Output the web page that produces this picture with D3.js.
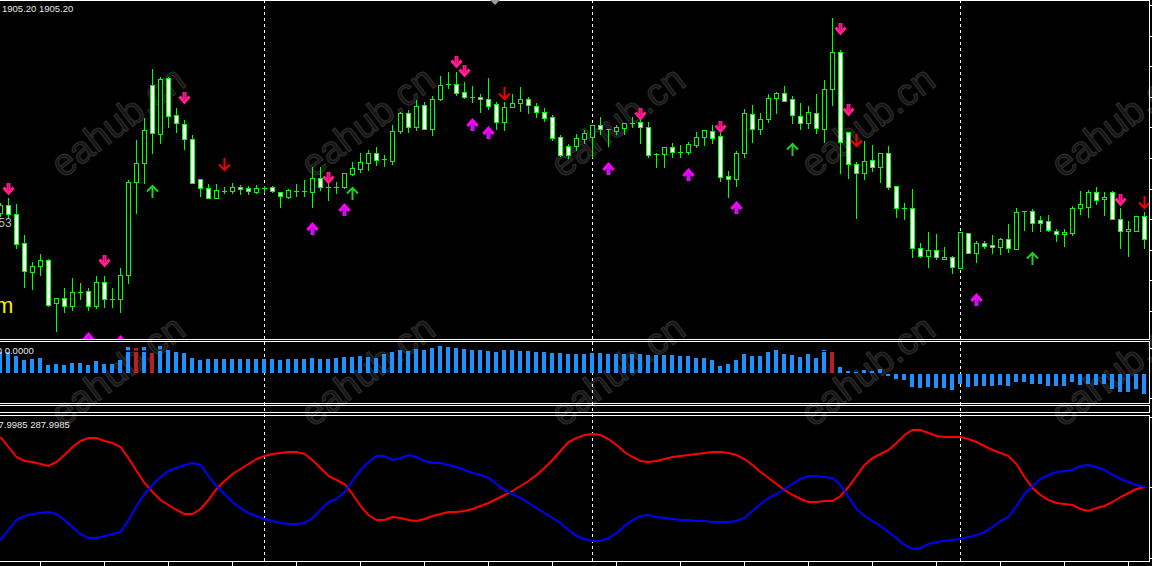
<!DOCTYPE html>
<html><head><meta charset="utf-8">
<script src="https://cdn.jsdelivr.net/npm/d3@7"></script>
<style>html,body{margin:0;padding:0;background:#000;overflow:hidden}</style>
</head><body><svg id="c" width="1152" height="566"></svg>
<script>
// ---------------- DATA ----------------
const barIndex = d3.range(144);
const candleOpen = [
1978.7,1979.5,1978.6,1975.7,1972.8,1973.4,1974.0,1969.7,1970.2,1969.4,
1970.8,1970.9,1969.4,1971.8,1970.1,1970.1,1972.5,1981.8,1983.7,1991.5,
1986.6,1992.2,1988.5,1987.6,1986.1,1982.1,1981.2,1980.2,1980.9,1980.9,
1981.3,1981.2,1980.8,1981.2,1981.3,1980.8,1980.3,1980.9,1980.9,1980.8,
1982.2,1981.3,1981.3,1981.3,1982.6,1983.1,1983.7,1984.7,1984.1,1983.9,
1986.9,1988.7,1987.3,1989.5,1987.1,1990.1,1991.6,1991.6,1990.8,1990.3,
1990.3,1990.1,1989.6,1987.8,1989.3,1989.7,1990.1,1989.4,1988.8,1988.3,
1986.3,1985.4,1985.4,1986.1,1986.3,1987.5,1987.1,1986.9,1987.2,1987.7,
1987.8,1987.3,1984.6,1984.6,1985.3,1984.8,1984.8,1985.5,1986.3,1986.9,
1986.4,1982.4,1982.1,1984.7,1988.6,1987.1,1988.1,1990.2,1990.7,1990.1,
1988.4,1987.7,1988.7,1987.1,1991.1,1994.8,1986.8,1983.6,1982.7,1984.0,
1983.3,1984.7,1981.4,1979.2,1979.2,1975.2,1974.4,1975.0,1974.1,1974.3,
1973.2,1976.7,1974.7,1975.7,1975.5,1975.3,1976.1,1975.1,1978.9,1978.9,
1978.0,1977.9,1976.9,1976.6,1976.7,1979.2,1979.3,1980.8,1980.1,1980.8,
1978.1,1976.9,1976.9,1978.4];
const candleHigh = [
1979.7,1980.2,1979.6,1976.5,1973.8,1974.6,1974.1,1970.2,1971.2,1972.2,
1971.7,1971.2,1972.4,1972.4,1971.2,1973.2,1982.0,1986.0,1988.2,1993.1,
1992.3,1992.3,1989.2,1988.0,1986.5,1982.1,1981.6,1981.6,1981.3,1981.7,
1981.5,1981.4,1981.5,1981.4,1981.4,1980.8,1981.1,1981.6,1982.0,1983.3,
1983.3,1982.3,1981.8,1982.7,1983.8,1984.7,1985.0,1985.3,1984.5,1987.5,
1988.8,1989.0,1990.0,1989.8,1990.4,1992.4,1992.8,1992.8,1991.8,1991.4,
1990.6,1992.2,1989.8,1989.8,1990.6,1991.3,1990.3,1989.7,1989.2,1988.5,
1986.5,1985.6,1986.6,1987.0,1987.5,1988.3,1987.1,1987.5,1987.7,1988.3,
1988.4,1987.8,1984.7,1985.3,1985.7,1985.5,1985.8,1986.8,1987.0,1987.5,
1986.9,1982.9,1984.9,1989.1,1989.5,1988.7,1990.6,1990.8,1991.4,1990.4,
1989.7,1989.4,1990.6,1992.0,1998.2,1995.0,1986.8,1983.8,1985.9,1985.5,
1984.7,1985.4,1981.4,1979.7,1981.1,1975.7,1976.8,1976.6,1975.3,1974.4,
1976.8,1976.7,1975.9,1975.9,1976.5,1976.2,1977.6,1979.2,1978.9,1979.1,
1978.4,1978.5,1977.1,1977.1,1979.4,1980.9,1981.0,1981.3,1980.8,1980.9,
1979.2,1977.9,1978.4,1978.8];
const candleLow = [
1978.4,1978.2,1975.2,1971.3,1971.1,1972.5,1969.4,1966.9,1968.8,1969.0,
1970.1,1969.0,1969.2,1969.3,1969.3,1968.8,1971.7,1978.7,1981.7,1984.7,
1985.7,1987.3,1986.8,1985.1,1981.7,1980.4,1980.2,1980.2,1980.7,1980.7,
1980.6,1980.6,1980.7,1980.8,1980.8,1979.3,1980.2,1980.4,1980.4,1979.3,
1981.0,1980.0,1980.7,1981.2,1982.5,1982.8,1983.0,1983.5,1983.4,1983.6,
1986.7,1986.8,1987.0,1987.1,1986.5,1990.0,1991.2,1990.5,1990.2,1989.8,
1988.8,1989.1,1987.1,1987.0,1989.3,1988.9,1988.7,1988.3,1987.9,1986.0,
1984.4,1984.2,1985.0,1985.7,1984.3,1986.6,1985.4,1986.6,1986.6,1987.3,
1985.7,1984.3,1983.3,1983.3,1984.3,1984.3,1984.6,1985.3,1985.5,1985.7,
1981.9,1980.3,1981.4,1984.3,1985.8,1986.6,1987.8,1988.7,1989.9,1987.7,
1987.1,1987.2,1986.7,1985.8,1989.5,1982.7,1982.2,1978.2,1982.1,1982.9,
1981.8,1981.1,1978.3,1978.1,1974.3,1974.3,1973.3,1974.1,1974.1,1972.7,
1973.2,1974.7,1973.8,1975.2,1974.7,1974.6,1974.8,1975.1,1977.0,1976.9,
1976.9,1976.9,1975.9,1975.4,1976.5,1978.6,1978.3,1979.6,1978.5,1978.1,
1975.2,1974.4,1976.9,1975.2];
const candleClose = [
1979.5,1978.6,1975.6,1972.9,1973.4,1974.0,1969.5,1970.2,1969.4,1970.8,
1970.8,1969.4,1971.8,1970.1,1970.1,1972.5,1981.8,1983.7,1987.0,1986.7,
1992.1,1988.4,1987.7,1986.1,1981.7,1981.2,1980.2,1981.0,1980.9,1981.3,
1981.1,1980.9,1981.2,1981.2,1980.9,1980.4,1981.0,1980.9,1980.9,1982.2,
1981.3,1981.3,1981.3,1982.7,1983.2,1983.8,1984.7,1984.0,1984.1,1986.9,
1988.7,1987.3,1989.4,1987.1,1990.1,1991.5,1991.6,1990.7,1990.3,1990.3,
1990.1,1989.4,1987.8,1989.3,1989.7,1990.1,1989.5,1988.8,1988.2,1986.2,
1984.5,1984.5,1986.2,1986.7,1987.5,1987.1,1987.1,1987.3,1987.7,1987.7,
1987.3,1984.5,1984.6,1985.3,1984.8,1984.8,1985.6,1986.3,1987.0,1986.2,
1982.3,1982.1,1984.7,1988.7,1987.1,1988.1,1990.2,1990.7,1989.9,1988.5,
1987.7,1988.8,1987.2,1991.1,1994.8,1985.8,1983.6,1982.7,1983.9,1983.3,
1984.7,1981.3,1979.2,1979.2,1975.2,1974.4,1975.0,1974.3,1974.3,1973.3,
1976.8,1974.7,1975.7,1975.4,1975.3,1976.1,1975.2,1978.8,1978.9,1977.7,
1977.7,1977.0,1976.6,1976.8,1979.2,1979.6,1980.8,1980.0,1980.3,1978.1,
1976.9,1977.1,1978.4,1976.1];

// signal arrows (bar index, price of glyph top)
const pinkDownIdx   = [1, 13, 23, 41, 57, 58, 80, 90, 105, 106, 140];
const pinkDownPrice = [1981.7,1974.5,1990.8,1982.8,1994.4,1993.5,1989.2,1987.9,1997.7,1989.6,1980.6];
const redDownIdx    = [28, 63, 107, 143];
const redDownPrice  = [1984.2,1991.3,1986.6,1980.4];
const magUpIdx      = [11, 15, 39, 43, 59, 61, 76, 86, 92, 122];
const magUpPrice    = [1966.8,1966.5,1977.8,1979.7,1988.2,1987.4,1983.8,1983.2,1979.9,1970.7];
const greenUpIdx    = [19, 44, 99, 129];
const greenUpPrice  = [1981.5,1981.3,1985.7,1974.8];

// histogram
const histValue = [
2.15,2.15,1.75,1.35,1.45,1.55,0.85,0.95,0.85,1.05,
1.05,0.85,1.25,0.95,0.95,1.35,2.2,2.2,2.2,2.05,
2.25,2.35,2.15,2.05,1.55,1.35,1.45,1.45,1.45,1.45,
1.45,1.45,1.45,1.45,1.45,1.35,1.45,1.45,1.45,1.55,
1.45,1.45,1.55,1.65,1.65,1.75,1.65,1.55,1.95,2.15,
2.35,2.25,2.45,2.35,2.55,2.75,2.65,2.55,2.45,2.35,
2.35,2.25,2.15,2.35,2.35,2.25,2.25,2.15,2.15,2.05,
2.05,1.95,1.95,1.95,2.05,2.05,1.95,1.95,1.95,1.95,
1.95,1.85,1.85,1.85,1.85,1.75,1.75,1.55,1.55,1.35,
0.75,0.95,1.35,1.95,1.75,1.75,2.15,2.35,1.95,1.85,
1.65,1.95,1.55,2.2,2.15,0.65,0.25,0.15,0.35,0.25,
0.45,-0.22,-0.52,-0.62,-1.35,-1.42,-1.35,-1.45,-1.45,-1.62,
-1.02,-1.35,-1.22,-1.22,-1.22,-1.12,-1.22,-0.82,-0.82,-1.02,
-1.02,-1.22,-1.22,-1.22,-0.82,-1.12,-1.02,-1.12,-1.02,-1.52,
-1.82,-1.82,-1.52,-2.02];
const histRedIdx = [17, 19, 104];
const histCapIdx = [16, 17, 18, 20, 103];
const histCapValue = [2.65, 2.55, 2.65, 2.75, 2.35];

// oscillator lines
const oscRed = [
124,114,104,100,99,97,95,99,106,114,
120,123,123,120,118,114,103,90,78,69,
61,56,51,47,47,52,61,72,80,87,
92,97,102,105,107,108,109,109,107,101,
93,85,81,77,67,55,46,41,41,44,
43,41,40,42,45,47,49,49,50,52,
55,58,62,66,70,75,80,86,93,101,
110,119,123,126,127,126,122,116,109,104,
100,99,100,102,104,105,106,107,108,109,
109,108,106,102,96,89,83,77,71,66,
62,59,59,60,60,65,74,85,96,103,
107,111,118,126,131,131,128,125,124,124,
124,122,119,115,111,108,105,97,84,73,
66,61,58,57,56,52,50,53,55,59,
64,68,72,74];
const oscBlue = [
21,31,41,45,47,48,49,47,41,34,
27,23,23,25,27,29,41,55,67,76,
84,90,93,96,98,96,85,75,67,59,
53,48,45,42,40,38,37,37,38,43,
51,59,62,69,80,91,99,105,105,101,
103,106,104,100,98,98,96,94,91,88,
86,83,77,71,67,63,58,53,48,43,
38,31,25,22,20,20,23,28,35,41,
45,46,44,43,42,41,41,40,40,39,
39,39,40,43,50,57,63,67,72,77,
82,85,85,84,83,76,64,52,45,40,
35,29,23,16,12,13,17,19,20,21,
22,24,26,29,34,40,44,55,67,75,
82,86,89,90,91,95,96,94,91,86,
82,79,76,74];

// axes / separators
const priceTicks = [1999.5,1996.44,1993.38,1990.32,1987.26,1984.2,1981.14,1978.08,1975.02,1971.96,1968.9];
const histTicks = [2.55, -2.45];
const oscTicks = [144, 74, 3];
const timeTickIdx = d3.range(5, 144, 8);
const separatorIdx = [33, 74, 120];
const labelMain = "1905.20 1905.20";
const labelHist = "0.0000 0.0000";
const labelOsc = "287.9985 287.9985";
const watermarkText = "eahub.cn";

// ---------------- DRAW ----------------
const W = 1152, H = 566, RIGHT = 1149.5;
const svg = d3.select("#c");
svg.append("rect").attr("width", W).attr("height", H).attr("fill", "#000");

const x = d3.scaleLinear().domain([0, 144]).range([0, 1152]);
const yP = d3.scaleLinear().domain([1966.1, 2000]).range([339, 0]);
const yH = d3.scaleLinear().domain([-3, 3.2]).range([403.5, 341.5]);
const yO = d3.scaleLinear().domain([0, 146]).range([561, 415]);

const defs = svg.append("defs");
function clip(id, y0, y1) {
  defs.append("clipPath").attr("id", id).append("rect")
    .attr("x", 0).attr("y", y0).attr("width", RIGHT).attr("height", y1 - y0);
  return "url(#" + id + ")";
}
const clipMain = clip("cm", 1, 339);
const clipHist = clip("ch", 342, 403);
const clipOsc = clip("co", 416, 561);

// watermark
const wm = svg.append("g");
for (let r = 0; r < 2; r++) {
  for (let k = 0; k < 5; k++) {
    const sx = 63 + 250 * k, sy = 179 + 249 * r;
    wm.append("text").text(watermarkText)
      .attr("x", sx).attr("y", sy)
      .attr("transform", `rotate(-37,${sx},${sy})`)
      .attr("font-family", "Liberation Sans, Arial, sans-serif")
      .attr("font-size", 38)
      .attr("fill", "#161616").attr("stroke", "#2a2a2a").attr("stroke-width", 1.2);
  }
}

// separators
svg.append("g").selectAll("line").data(separatorIdx).join("line")
  .attr("x1", d => x(d) + 0.5).attr("x2", d => x(d) + 0.5)
  .attr("y1", 0).attr("y2", 561)
  .attr("stroke", "#fff").attr("stroke-width", 1).attr("stroke-dasharray", "3,3");

// candles
const GREEN = "#00ff00";
const gc = svg.append("g").attr("clip-path", clipMain);
const candles = barIndex.map(i => ({i, o: candleOpen[i], h: candleHigh[i], l: candleLow[i], c: candleClose[i]}));
gc.selectAll("line.wick").data(candles).join("line").attr("class", "wick")
  .attr("x1", d => x(d.i) + 0.5).attr("x2", d => x(d.i) + 0.5)
  .attr("y1", d => Math.round(yP(d.h))).attr("y2", d => Math.round(yP(d.l)) + 1)
  .attr("stroke", GREEN).attr("stroke-width", 1);
const bodies = candles.filter(d => Math.abs(d.o - d.c) >= 0.05);
gc.selectAll("rect.body").data(bodies).join("rect").attr("class", "body")
  .attr("x", d => x(d.i) - 1.5)
  .attr("y", d => Math.round(yP(Math.max(d.o, d.c))) + 0.5)
  .attr("width", 4)
  .attr("height", d => Math.max(1, Math.round(yP(Math.min(d.o, d.c))) - Math.round(yP(Math.max(d.o, d.c)))))
  .attr("fill", d => d.c < d.o ? "#fff" : "#000")
  .attr("stroke", GREEN).attr("stroke-width", 1);
const dojis = candles.filter(d => Math.abs(d.o - d.c) < 0.05);
gc.selectAll("line.doji").data(dojis).join("line").attr("class", "doji")
  .attr("x1", d => x(d.i) - 2).attr("x2", d => x(d.i) + 3)
  .attr("y1", d => Math.round(yP(d.c)) + 0.5).attr("y2", d => Math.round(yP(d.c)) + 0.5)
  .attr("stroke", GREEN).attr("stroke-width", 1);

// arrows
function arrows(idx, price, kind) {
  const g = gc.append("g");
  idx.forEach((bi, j) => {
    const cx = x(bi) + 0.5, ty = Math.round(yP(price[j]));
    const a = g.append("g").attr("transform", `translate(${cx},${ty})`);
    if (kind === "pink") {
      a.append("rect").attr("x", -2).attr("y", 0).attr("width", 4).attr("height", 9).attr("fill", "#ff1f8e");
      a.append("path").attr("d", "M-5,4.5L0,10L5,4.5").attr("fill", "none")
        .attr("stroke", "#ff1f8e").attr("stroke-width", 3.2);
      a.append("rect").attr("x", -0.7).attr("y", 0).attr("width", 1.4).attr("height", 8).attr("fill", "#d8106e");
    } else if (kind === "mag") {
      a.append("rect").attr("x", -2).attr("y", 4).attr("width", 4).attr("height", 9).attr("fill", "#ff00ff");
      a.append("path").attr("d", "M-5,8L0,2.5L5,8").attr("fill", "none")
        .attr("stroke", "#ff00ff").attr("stroke-width", 3.2);
      a.append("rect").attr("x", -0.8).attr("y", 4).attr("width", 1.6).attr("height", 9).attr("fill", "#8a2be2");
    } else if (kind === "red") {
      a.append("path").attr("d", "M0,0V12M-5.5,6.5L0,12L5.5,6.5").attr("fill", "none")
        .attr("stroke", "#ee0000").attr("stroke-width", 2);
    } else {
      a.append("path").attr("d", "M0,13V1M-5.5,6.5L0,1L5.5,6.5").attr("fill", "none")
        .attr("stroke", "#1fcf1f").attr("stroke-width", 2);
    }
  });
}
arrows(pinkDownIdx, pinkDownPrice, "pink");
arrows(redDownIdx, redDownPrice, "red");
arrows(magUpIdx, magUpPrice, "mag");
arrows(greenUpIdx, greenUpPrice, "green");

// histogram
const gh = svg.append("g").attr("clip-path", clipHist);
const zero = yH(0);
const hist = barIndex.map(i => ({i, v: histValue[i], red: histRedIdx.includes(i)}));
gh.selectAll("rect.hb").data(hist).join("rect").attr("class", "hb")
  .attr("x", d => x(d.i) - 2).attr("width", 4)
  .attr("y", d => d.v >= 0 ? Math.round(yH(d.v)) : zero + 0.5)
  .attr("height", d => d.v >= 0 ? (zero - 0.5 - Math.round(yH(d.v))) : (Math.round(yH(d.v)) - zero - 0.5))
  .attr("fill", d => d.red ? "#b22222" : "#1e90ff");
const caps = histCapIdx.map((bi, j) => ({i: bi, v: histCapValue[j], base: histValue[bi], red: histRedIdx.includes(bi)}));
gh.selectAll("rect.cap").data(caps).join("rect").attr("class", "cap")
  .attr("x", d => x(d.i) - 2).attr("width", 4)
  .attr("y", d => Math.round(yH(d.v)))
  .attr("height", d => Math.max(1, Math.round(yH(d.base)) - 1.5 - Math.round(yH(d.v))))
  .attr("fill", d => d.red ? "#b22222" : "#1e90ff");

// oscillator
const go = svg.append("g").attr("clip-path", clipOsc);
const line = d3.line().x((d, i) => x(i) + 0.5).y(d => yO(d));
go.append("path").datum(oscRed).attr("d", line).attr("fill", "none").attr("stroke", "#ff0000").attr("stroke-width", 2);
go.append("path").datum(oscBlue).attr("d", line).attr("fill", "none").attr("stroke", "#0000ff").attr("stroke-width", 2);

// panel frames
const panels = [[0.5, 339.5], [341.5, 403.5], [405.5, 412.5], [415.5, 561.5]];
svg.append("g").selectAll("rect").data(panels).join("rect")
  .attr("x", -2).attr("y", d => d[0]).attr("width", RIGHT + 2).attr("height", d => d[1] - d[0])
  .attr("fill", "none").attr("stroke", "#fff").attr("stroke-width", 1);

// right ticks
const ticks = svg.append("g").attr("stroke", "#fff").attr("stroke-width", 1);
ticks.selectAll("line.p").data(priceTicks).join("line").attr("class", "p")
  .attr("x1", RIGHT).attr("x2", W).attr("y1", d => Math.round(yP(d)) + 0.5).attr("y2", d => Math.round(yP(d)) + 0.5);
ticks.selectAll("line.h").data(histTicks).join("line").attr("class", "h")
  .attr("x1", RIGHT).attr("x2", W).attr("y1", d => Math.round(yH(d)) + 0.5).attr("y2", d => Math.round(yH(d)) + 0.5);
ticks.selectAll("line.o").data(oscTicks).join("line").attr("class", "o")
  .attr("x1", RIGHT).attr("x2", W).attr("y1", d => Math.round(yO(d)) + 0.5).attr("y2", d => Math.round(yO(d)) + 0.5);
ticks.selectAll("line.t").data(timeTickIdx).join("line").attr("class", "t")
  .attr("x1", d => x(d) + 0.5).attr("x2", d => x(d) + 0.5).attr("y1", 561.5).attr("y2", H);

// chart shift marker
svg.append("path").attr("d", "M490,0L500,0L495,5Z").attr("fill", "#9a9a9a");

// labels
const font = "Liberation Sans, Arial, sans-serif";
svg.append("text").text(labelMain).attr("x", 2).attr("y", 12)
  .attr("font-family", font).attr("font-size", 9.5).attr("fill", "#e8e8e8");
svg.append("text").text(labelHist).attr("x", -27).attr("y", 354)
  .attr("font-family", font).attr("font-size", 9.5).attr("fill", "#e8e8e8");
svg.append("text").text(labelOsc).attr("x", -12).attr("y", 428)
  .attr("font-family", font).attr("font-size", 9.5).attr("fill", "#e8e8e8");
svg.append("text").text("1953").attr("x", -15).attr("y", 227)
  .attr("font-family", font).attr("font-size", 12).attr("fill", "#b8b8b8");
svg.append("text").text("m").attr("x", -5).attr("y", 313)
  .attr("font-family", font).attr("font-size", 22).attr("fill", "#ffee00");
</script></body></html>
